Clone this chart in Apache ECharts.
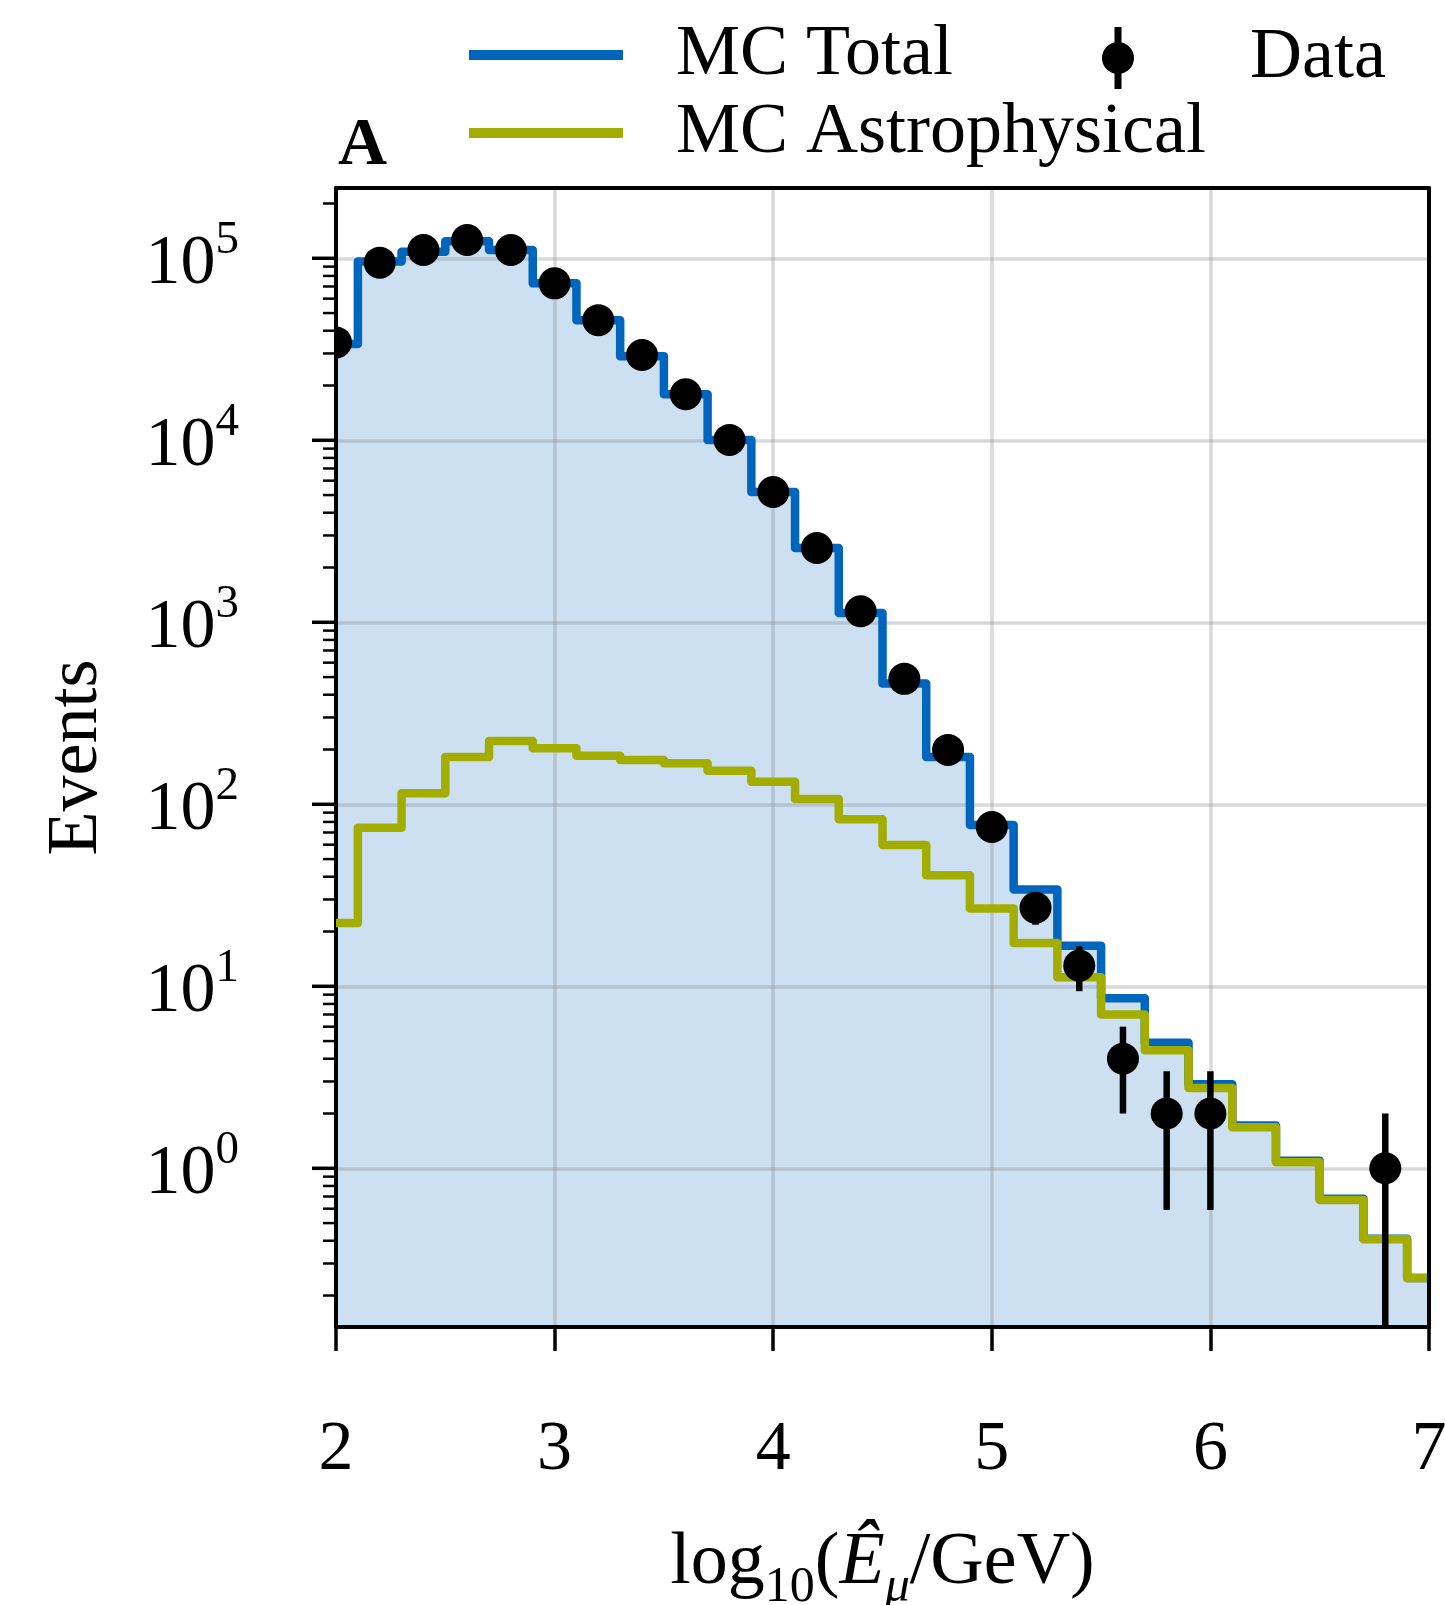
<!DOCTYPE html>
<html>
<head>
<meta charset="utf-8">
<script src="https://cdn.jsdelivr.net/npm/echarts@6/dist/echarts.min.js"></script>
<style>
  html, body { margin: 0; padding: 0; background: #ffffff; }
  #chart { width: 1445px; height: 1605px; }
</style>
</head>
<body>
<div id="chart"></div>
<script>
// Reconstructed muon energy proxy, log10(E/GeV); bins are 0.2 wide, listed by centre
const binCentres = [2.0, 2.2, 2.4, 2.6, 2.8, 3.0, 3.2, 3.4, 3.6, 3.8, 4.0, 4.2, 4.4,
                    4.6, 4.8, 5.0, 5.2, 5.4, 5.6, 5.8, 6.0, 6.2, 6.4, 6.6, 6.8, 7.0];

// Expected events, full simulation
const mcTotal = [33800, 96000, 108500, 124000, 111000, 72800, 45700, 29000, 17900, 10050,
                 5200, 2560, 1125, 461, 182, 77, 34, 16.7, 8.6, 4.9, 2.9, 1.72, 1.1, 0.68, 0.41, 0.25];

// Expected events, astrophysical component only
const mcAstro = [22.3, 74.4, 115, 182, 223, 203, 185, 175, 168, 153, 133, 107, 82.8,
                 59.8, 40.7, 26.8, 17.3, 11.2, 7.0, 4.45, 2.76, 1.68, 1.08, 0.67, 0.407, 0.25];

// Observed events and their uncertainties (null = empty bin)
const dataCounts = [34500, 94600, 111000, 126000, 111000, 72800, 45700, 29400, 17900, 10050,
                    5200, 2560, 1150, 489, 199, 75, 27, 13, 4, 2, 2, null, null, null, 1, null];
const dataErrors = [186, 308, 333, 355, 333, 270, 214, 171, 134, 100,
                    72, 51, 34, 22, 14, 8.7, 5.2, 3.6, 2, 1.41, 1.41, null, null, null, 1, null];

// Axis extents and labelled decades
const X_MIN = 2, X_MAX = 7;
const Y_MIN = 0.1343, Y_MAX = 243300;
const yDecades = [-1, 0, 1, 2, 3, 4, 5];
const minorMultipliers = [1, 2, 3, 4, 5, 6, 7, 8, 9];

const FONT = '"Liberation Serif", "DejaVu Serif", serif';
const BLUE = '#0065BD';
const OLIVE = '#A2AD00';
const GRID = 'rgba(128,128,128,0.3)';

const pairs = arr => binCentres.map((x, i) => [x, arr[i]]);

const dataPoints = binCentres
  .map((x, i) => [x, dataCounts[i], dataErrors[i]])
  .filter(d => d[1] != null);

// Log-axis ticks: major at each decade, minor at 2..9 times the decade
const yTickMarks = [];
yDecades.forEach(n => {
  minorMultipliers.forEach(k => {
    const v = k * Math.pow(10, n);
    if (v >= Y_MIN && v <= Y_MAX) yTickMarks.push([X_MIN, v, k === 1 ? 1 : 0]);
  });
});

const stepLine = (name, values, color, z) => ({
  name, type: 'line', step: 'middle', data: pairs(values),
  symbol: 'none', z, silent: true,
  lineStyle: { color, width: 8.5, join: 'round', cap: 'butt' },
  itemStyle: { color }
});

const legendText = (padTop, padLeft) => ({
  fontFamily: FONT, fontSize: 72, lineHeight: 72, color: '#000', padding: [padTop, 0, 0, padLeft]
});

const chart = echarts.init(document.getElementById('chart'), null, { renderer: 'canvas' });

chart.setOption({
  animation: false,
  backgroundColor: '#ffffff',
  title: {
    text: 'A', left: 338, top: 112, padding: 0,
    textStyle: { fontFamily: FONT, fontWeight: 'bold', fontSize: 68, lineHeight: 68, color: '#000' }
  },
  legend: [
    {
      data: [{ name: 'MC Total', icon: 'rect' }],
      left: 469, top: 14, padding: 0, selectedMode: false,
      itemWidth: 154, itemHeight: 10,
      textStyle: legendText(10, 48)
    },
    {
      data: [{ name: 'MC Astrophysical', icon: 'rect' }],
      left: 469, top: 87, padding: 0, selectedMode: false,
      itemWidth: 154, itemHeight: 10,
      textStyle: legendText(20, 48)
    },
    {
      data: [{
        name: 'Data',
        icon: 'path://M12.5,0 L19.5,0 L19.5,62 L12.5,62 Z M0,31 A16,16 0 1,1 32,31 A16,16 0 1,1 0,31 Z'
      }],
      left: 1102, top: 14, padding: 0, selectedMode: false,
      itemWidth: 32, itemHeight: 62,
      textStyle: legendText(16, 111)
    }
  ],
  grid: { left: 336, right: 16, top: 188, bottom: 278, containLabel: false, outerBoundsMode: 'none' },
  xAxis: [
    {
      type: 'value', min: X_MIN, max: X_MAX, interval: 1, position: 'bottom', z: 1,
      axisLine: { show: true, onZero: false, lineStyle: { color: '#000', width: 4 } },
      axisTick: { show: true, inside: false, length: 24, lineStyle: { color: '#000', width: 3.5 } },
      axisLabel: { margin: 89, fontFamily: FONT, fontSize: 70, color: '#000' },
      splitLine: { show: true, lineStyle: { color: GRID, width: 3.5 } },
      name: '{n|log}{sub|10}{n|(}{it|Ê}{itsub|μ}{n|/GeV)}',
      nameLocation: 'middle', nameGap: 200,
      nameTextStyle: {
        color: '#000',
        rich: {
          n: { fontFamily: FONT, fontSize: 74, lineHeight: 74, verticalAlign: 'top', color: '#000' },
          sub: { fontFamily: FONT, fontSize: 50, lineHeight: 86, verticalAlign: 'bottom', color: '#000' },
          it: { fontFamily: FONT, fontStyle: 'italic', fontSize: 74, lineHeight: 74, verticalAlign: 'top', color: '#000' },
          itsub: { fontFamily: FONT, fontStyle: 'italic', fontSize: 50, lineHeight: 86, verticalAlign: 'bottom', color: '#000' }
        }
      }
    },
    {
      type: 'value', min: X_MIN, max: X_MAX, position: 'top', z: 5,
      axisLine: { show: true, onZero: false, lineStyle: { color: '#000', width: 4 } },
      axisTick: { show: false }, axisLabel: { show: false }, splitLine: { show: false }
    }
  ],
  yAxis: [
    {
      type: 'log', logBase: 10, min: Y_MIN, max: Y_MAX, position: 'left', z: 1,
      axisLine: { show: true, onZero: false, lineStyle: { color: '#000', width: 4 } },
      axisTick: { show: false },
      axisLabel: {
        margin: 97,
        formatter: value => {
          const e = Math.log10(value);
          const r = Math.round(e);
          if (Math.abs(e - r) > 1e-6 || yDecades.indexOf(r) < 0) return '';
          return '{b|10}{s|' + r + '}';
        },
        rich: {
          b: { fontFamily: FONT, fontSize: 70, lineHeight: 82, verticalAlign: 'bottom', color: '#000' },
          s: { fontFamily: FONT, fontSize: 47, lineHeight: 42, verticalAlign: 'top', color: '#000' }
        }
      },
      splitLine: { show: true, lineStyle: { color: GRID, width: 3.5 } },
      name: 'Events', nameLocation: 'middle', nameGap: 223,
      nameTextStyle: { fontFamily: FONT, fontSize: 72, lineHeight: 72, color: '#000' }
    },
    {
      type: 'value', min: 0, max: 1, position: 'right', z: 5,
      axisLine: { show: true, onZero: false, lineStyle: { color: '#000', width: 4 } },
      axisTick: { show: false }, axisLabel: { show: false }, splitLine: { show: false }
    }
  ],
  series: [
    {
      name: 'mcFill', type: 'line', step: 'middle', data: pairs(mcTotal),
      symbol: 'none', z: 0, silent: true,
      lineStyle: { width: 0, opacity: 0 },
      areaStyle: { color: 'rgba(0,101,189,0.2)', origin: 'start', opacity: 1 }
    },
    stepLine('MC Total', mcTotal, BLUE, 2),
    stepLine('MC Astrophysical', mcAstro, OLIVE, 3),
    {
      name: 'Data', type: 'custom', z: 4, clip: true, silent: true,
      itemStyle: { color: '#000' },
      data: dataPoints,
      encode: { x: 0, y: 1 },
      renderItem: (params, api) => {
        const x = api.value(0), y = api.value(1), err = api.value(2);
        const hi = y + err;
        const lo = Math.max(y - err, Y_MIN / 10);
        const c = api.coord([x, y]);
        const top = api.coord([x, hi]);
        const bot = api.coord([x, lo]);
        return {
          type: 'group',
          children: [
            { type: 'line', shape: { x1: c[0], y1: top[1], x2: c[0], y2: bot[1] },
              style: { stroke: '#000', lineWidth: 6.5 } },
            { type: 'circle', shape: { cx: c[0], cy: c[1], r: 16 }, style: { fill: '#000' } }
          ]
        };
      }
    },
    {
      name: 'yTicks', type: 'custom', z: 5, silent: true,
      data: yTickMarks,
      encode: { x: 0, y: 1 },
      renderItem: (params, api) => {
        const p = api.coord([api.value(0), api.value(1)]);
        const major = api.value(2) === 1;
        const len = major ? 24 : 13;
        return {
          type: 'line',
          shape: { x1: p[0] - len, y1: p[1], x2: p[0], y2: p[1] },
          style: { stroke: '#000', lineWidth: major ? 3.5 : 2.5 }
        };
      }
    }
  ]
});
</script>
</body>
</html>
